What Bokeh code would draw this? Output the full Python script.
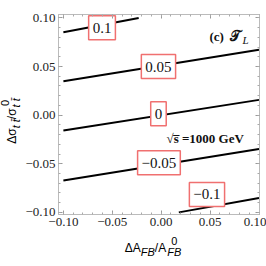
import numpy as np
from bokeh.plotting import figure
from bokeh.models import FixedTicker, LinearAxis, Label, Range1d, Div
from bokeh.layouts import row, column
from bokeh.core.properties import value
from bokeh.embed import file_html
from bokeh.resources import INLINE

# contour levels (Δσ/σ0 values of the labelled lines)
levels = ["0.1", "0.05", "0", "\u22120.05", "\u22120.1"]
# end points of each straight contour line (x = ΔA_FB/A_FB^0, y = Δσ/σ^0)
line_x = [[-0.1, -0.023], [-0.1, 0.1], [-0.1, 0.1], [-0.1, 0.1], [0.018, 0.1]]
line_y = [[0.0853, 0.1], [0.0348, 0.0673], [-0.0157, 0.0157], [-0.0673, -0.0348], [-0.1, -0.0853]]
# label positions along the contours
label_x = [-0.0605, -0.0028, -0.0028, -0.0023, 0.0468]
label_y = [0.0898, 0.0499, 0.0013, -0.0489, -0.0816]

tick_values = [-0.1, -0.05, 0.0, 0.05, 0.1]
tick_labels = ["\u22120.10", "\u22120.05", "0.00", "0.05", "0.10"]

SERIF = "Liberation Serif"

p = figure(width=244, height=234, output_backend="svg", toolbar_location=None,
           x_range=Range1d(-0.105, 0.1005), y_range=Range1d(-0.1022, 0.1035),
           min_border_left=34, min_border_right=7, min_border_top=14, min_border_bottom=20,
           margin=0)
p.background_fill_color = "white"
p.border_fill_color = "white"
p.outline_line_color = "#bbbbbb"
p.grid.visible = False

minor = list(np.round(np.arange(-0.1, 0.1001, 0.01), 3))

def style_axis(ax, show_labels):
    ax.ticker = FixedTicker(ticks=tick_values, minor_ticks=minor)
    ax.axis_line_color = "#bbbbbb"
    ax.major_tick_line_color = "#999999"
    ax.minor_tick_line_color = "#aaaaaa"
    ax.major_tick_in = 4
    ax.major_tick_out = 0
    ax.minor_tick_in = 2
    ax.minor_tick_out = 0
    ax.major_label_text_font = SERIF
    ax.major_label_text_font_size = "13px"
    ax.major_label_text_color = "#222222"
    if show_labels:
        ax.major_label_overrides = {v: s for v, s in zip(tick_values, tick_labels)}
        ax.major_label_standoff = 3
    else:
        ax.major_label_overrides = {v: "" for v in tick_values}
        ax.major_label_standoff = 0

style_axis(p.xaxis[0], True)
style_axis(p.yaxis[0], True)
top = LinearAxis()
right = LinearAxis()
style_axis(top, False)
style_axis(right, False)
p.add_layout(top, "above")
p.add_layout(right, "right")

for xs, ys in zip(line_x, line_y):
    p.line(xs, ys, line_color="black", line_width=2)

p.text(x=label_x, y=label_y, text=levels, text_font=value(SERIF),
       text_font_size="15px", text_color="#111111", text_align="center", text_baseline="middle",
       padding=(4, 7), background_fill_color="white", border_line_color="#f07070", border_line_width=1.5)

def lab(txt, x, y, size, bold=False, italic=False):
    style = "bold" if bold else "normal"
    if italic:
        style = "bold italic" if bold else "italic"
    p.add_layout(Label(x=x, y=y, x_units="screen", y_units="screen", text=txt,
                       text_font=SERIF, text_font_size=f"{size}px", text_font_style=style,
                       text_color="#111111", text_align="left", text_baseline="alphabetic"))

# annotations inside the frame (frame-relative screen coords: X - 56, 214 - Y)
lab("(c) ", 207 - 56, 214 - 36, 13, bold=True)
lab("\U0001D4AF", 227 - 56, 214 - 36, 14, bold=True)
lab("L", 240 - 56, 214 - 39, 11, italic=True)
lab("\u221as\u0305 =1000 GeV", 164 - 56, 214 - 138, 13, bold=True)

FONT = "font-family:'Liberation Serif',serif;color:#111;white-space:nowrap;"
SUB = "font-size:11px;font-style:italic;vertical-align:-4px;"
STACK = ("display:inline-flex;flex-direction:column;font-size:11px;line-height:11px;"
         "vertical-align:7px;margin-left:1px;")

y_html = (
    "<div style='position:relative;width:22px;height:234px;'>"
    "<div style='position:absolute;left:0;top:0;width:234px;height:22px;box-sizing:border-box;"
    "padding-right:8px;transform-origin:0 0;transform:translate(0px,234px) rotate(-90deg);"
    f"text-align:center;{FONT}font-size:16px;line-height:27px;'>"
    f"\u0394\u03c3<span style='{SUB}'>t&nbsp;t\u0304</span>"
    f"/\u03c3<span style='{STACK}'><span>0</span>"
    "<span style='font-style:italic;'>t&nbsp;t\u0304</span></span></div></div>"
)
x_html = (
    "<div style='position:relative;width:266px;height:32px;'>"
    "<div style='position:absolute;left:0;top:2px;width:266px;box-sizing:border-box;padding-left:40px;"
    f"text-align:center;{FONT}font-size:16px;line-height:16px;'>"
    f"\u0394A<span style='{SUB}'>FB</span>"
    f"/A<span style='{STACK}'><span>0</span><span style='font-style:italic;'>FB</span></span>"
    "</div></div>"
)

ydiv = Div(text=y_html, width=22, height=234, margin=0, styles={"overflow": "visible"})
xdiv = Div(text=x_html, width=266, height=32, margin=0, styles={"overflow": "visible"})

layout = column(row(ydiv, p, margin=0, spacing=0), xdiv, margin=0, spacing=0)

open("out.html", "w").write(file_html(layout, INLINE))
